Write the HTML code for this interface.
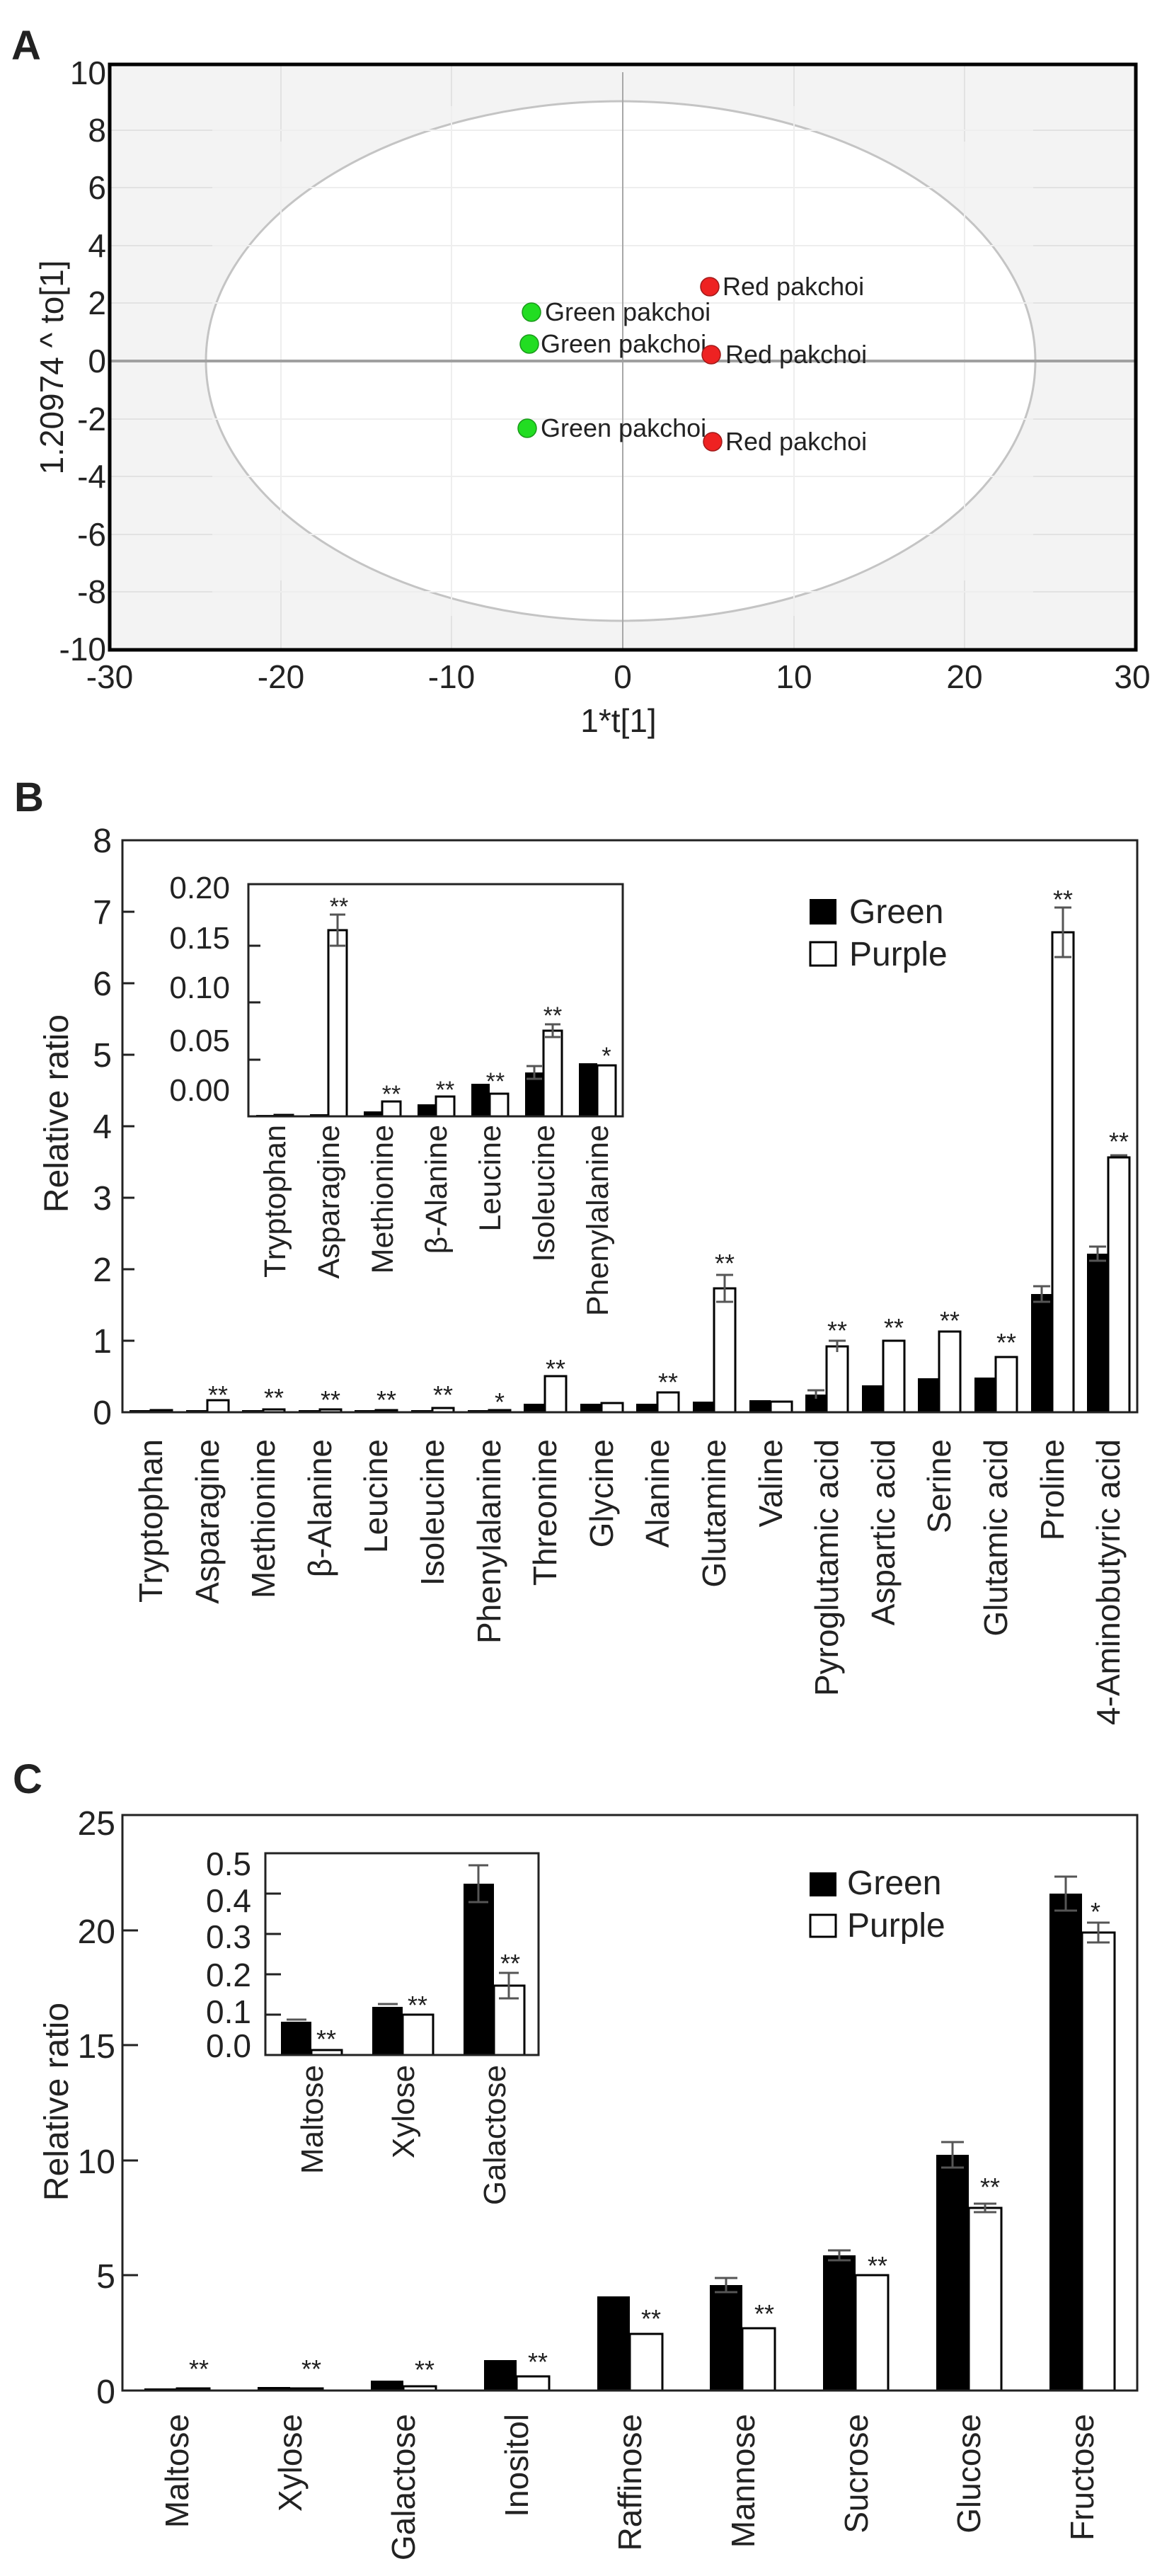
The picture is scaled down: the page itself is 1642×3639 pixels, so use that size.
<!DOCTYPE html>
<html><head><meta charset="utf-8"><style>
html,body{margin:0;padding:0;background:#fff;}
svg{display:block;}
text{font-family:"Liberation Sans",Arial,sans-serif;fill:#222;}
</style></head><body>
<svg width="1642" height="3639" viewBox="0 0 1642 3639" xmlns="http://www.w3.org/2000/svg">
<rect width="1642" height="3639" fill="#fff"/>

<!-- ============ PANEL A ============ -->
<text x="16" y="84" font-size="58" font-weight="bold" fill="#000">A</text>
<rect x="155" y="91" width="1450" height="827" fill="#f3f3f3"/>
<g stroke="#e2e2e2" stroke-width="2">
<line x1="397" y1="91" x2="397" y2="918"/><line x1="638" y1="91" x2="638" y2="918"/>
<line x1="1122" y1="91" x2="1122" y2="918"/><line x1="1363" y1="91" x2="1363" y2="918"/>
<line x1="155" y1="184" x2="1605" y2="184"/><line x1="155" y1="265" x2="1605" y2="265"/>
<line x1="155" y1="347" x2="1605" y2="347"/><line x1="155" y1="428" x2="1605" y2="428"/>
<line x1="155" y1="592" x2="1605" y2="592"/><line x1="155" y1="673" x2="1605" y2="673"/>
<line x1="155" y1="755" x2="1605" y2="755"/><line x1="155" y1="836" x2="1605" y2="836"/>
</g>
<ellipse cx="877" cy="510" rx="586" ry="367" fill="#fff" stroke="#c4c4c4" stroke-width="3"/>
<g stroke="#eeeeee" stroke-width="2">
<line x1="397" y1="200" x2="397" y2="820"/><line x1="638" y1="150" x2="638" y2="870"/>
<line x1="1122" y1="150" x2="1122" y2="870"/><line x1="1363" y1="200" x2="1363" y2="820"/>
<line x1="300" y1="184" x2="1460" y2="184"/><line x1="300" y1="265" x2="1460" y2="265"/>
<line x1="300" y1="347" x2="1460" y2="347"/><line x1="300" y1="428" x2="1460" y2="428"/>
<line x1="300" y1="592" x2="1460" y2="592"/><line x1="300" y1="673" x2="1460" y2="673"/>
<line x1="300" y1="755" x2="1460" y2="755"/><line x1="300" y1="836" x2="1460" y2="836"/>
</g>
<line x1="880" y1="102" x2="880" y2="918" stroke="#a8a8a8" stroke-width="2"/>
<line x1="155" y1="510" x2="1605" y2="510" stroke="#a0a0a0" stroke-width="4"/>
<rect x="155" y="91" width="1450" height="827" fill="none" stroke="#000" stroke-width="5"/>
<g font-size="36" fill="#333">
<circle cx="751" cy="441" r="13" fill="#22dd22" stroke="#1a9a1a" stroke-width="1.5"/><text x="770" y="453">Green pakchoi</text>
<circle cx="748" cy="486" r="13" fill="#22dd22" stroke="#1a9a1a" stroke-width="1.5"/><text x="764" y="498">Green pakchoi</text>
<circle cx="745" cy="605" r="13" fill="#22dd22" stroke="#1a9a1a" stroke-width="1.5"/><text x="764" y="617">Green pakchoi</text>
<circle cx="1003" cy="405" r="13" fill="#ee2222" stroke="#a01a1a" stroke-width="1.5"/><text x="1021" y="417">Red pakchoi</text>
<circle cx="1005" cy="501" r="13" fill="#ee2222" stroke="#a01a1a" stroke-width="1.5"/><text x="1025" y="513">Red pakchoi</text>
<circle cx="1007" cy="624" r="13" fill="#ee2222" stroke="#a01a1a" stroke-width="1.5"/><text x="1025" y="636">Red pakchoi</text>
</g>
<g font-size="46" text-anchor="end" fill="#333">
<text x="150" y="119">10</text><text x="150" y="200">8</text><text x="150" y="281">6</text>
<text x="150" y="363">4</text><text x="150" y="444">2</text><text x="150" y="526">0</text>
<text x="150" y="608">-2</text><text x="150" y="689">-4</text><text x="150" y="771">-6</text>
<text x="150" y="852">-8</text><text x="150" y="933">-10</text>
</g>
<g font-size="46" text-anchor="middle" fill="#333">
<text x="155" y="972">-30</text><text x="397" y="972">-20</text><text x="638" y="972">-10</text>
<text x="880" y="972">0</text><text x="1122" y="972">10</text><text x="1363" y="972">20</text><text x="1600" y="972">30</text>
</g>
<text x="874" y="1034" font-size="46" text-anchor="middle" fill="#333">1*t[1]</text>
<text transform="translate(89,519) rotate(-90)" font-size="46" text-anchor="middle" fill="#333">1.20974 ^ to[1]</text>

<!-- ============ PANEL B ============ -->
<text x="20" y="1146" font-size="58" font-weight="bold" fill="#000">B</text>
<g font-size="48" text-anchor="end" fill="#222">
<text x="158" y="1204">8</text><text x="158" y="1305">7</text><text x="158" y="1406">6</text>
<text x="158" y="1507">5</text><text x="158" y="1608">4</text><text x="158" y="1709">3</text>
<text x="158" y="1810">2</text><text x="158" y="1911">1</text><text x="158" y="2012">0</text>
</g>
<g stroke="#222" stroke-width="3">
<line x1="173" y1="1288" x2="190" y2="1288"/><line x1="173" y1="1389" x2="190" y2="1389"/>
<line x1="173" y1="1490" x2="190" y2="1490"/><line x1="173" y1="1591" x2="190" y2="1591"/>
<line x1="173" y1="1692" x2="190" y2="1692"/><line x1="173" y1="1793" x2="190" y2="1793"/>
<line x1="173" y1="1894" x2="190" y2="1894"/>
</g>
<text transform="translate(96,1573) rotate(-90)" font-size="48" text-anchor="middle" fill="#222">Relative ratio</text>
<!-- bars B -->
<g fill="#000">
<rect x="183" y="1992" width="30" height="3"/>
<rect x="263" y="1992" width="30" height="3"/>
<rect x="342" y="1992" width="30" height="3"/>
<rect x="422" y="1992" width="30" height="3"/>
<rect x="501" y="1992" width="30" height="3"/>
<rect x="581" y="1992" width="30" height="3"/>
<rect x="661" y="1992" width="30" height="3"/>
<rect x="740" y="1983" width="30" height="12"/>
<rect x="820" y="1983" width="30" height="12"/>
<rect x="899" y="1983" width="30" height="12"/>
<rect x="979" y="1980" width="30" height="15"/>
<rect x="1059" y="1978" width="30" height="17"/>
<rect x="1138" y="1970" width="30" height="25"/>
<rect x="1218" y="1957" width="30" height="38"/>
<rect x="1297" y="1947" width="30" height="48"/>
<rect x="1377" y="1946" width="30" height="49"/>
<rect x="1457" y="1828" width="30" height="167"/>
<rect x="1536" y="1771" width="30" height="224"/>
</g>
<g fill="#fff" stroke="#000" stroke-width="3">
<rect x="213" y="1992" width="30" height="3"/>
<rect x="293" y="1978" width="30" height="17"/>
<rect x="372" y="1991" width="30" height="4"/>
<rect x="452" y="1991" width="30" height="4"/>
<rect x="531" y="1992" width="30" height="3"/>
<rect x="611" y="1989" width="30" height="6"/>
<rect x="691" y="1992" width="30" height="3"/>
<rect x="770" y="1944" width="30" height="51"/>
<rect x="850" y="1982" width="30" height="13"/>
<rect x="929" y="1967" width="30" height="28"/>
<rect x="1009" y="1820" width="30" height="175"/>
<rect x="1089" y="1980" width="30" height="15"/>
<rect x="1168" y="1902" width="30" height="93"/>
<rect x="1248" y="1894" width="30" height="101"/>
<rect x="1327" y="1881" width="30" height="114"/>
<rect x="1407" y="1917" width="30" height="78"/>
<rect x="1487" y="1317" width="30" height="678"/>
<rect x="1566" y="1635" width="30" height="360"/>
</g>
<g stroke="#555" stroke-width="3">
<line x1="1024" y1="1801" x2="1024" y2="1839"/><line x1="1012" y1="1801" x2="1036" y2="1801"/><line x1="1012" y1="1839" x2="1036" y2="1839"/>
<line x1="1183" y1="1894" x2="1183" y2="1910"/><line x1="1171" y1="1894" x2="1195" y2="1894"/>
<line x1="1153" y1="1964" x2="1153" y2="1976"/><line x1="1141" y1="1964" x2="1165" y2="1964"/>
<line x1="1472" y1="1817" x2="1472" y2="1839"/><line x1="1460" y1="1817" x2="1484" y2="1817"/><line x1="1460" y1="1839" x2="1484" y2="1839"/>
<line x1="1502" y1="1282" x2="1502" y2="1352"/><line x1="1490" y1="1282" x2="1514" y2="1282"/><line x1="1490" y1="1352" x2="1514" y2="1352"/>
<line x1="1551" y1="1761" x2="1551" y2="1781"/><line x1="1539" y1="1761" x2="1563" y2="1761"/><line x1="1539" y1="1781" x2="1563" y2="1781"/>
<line x1="1569" y1="1632" x2="1593" y2="1632"/>
</g>
<g font-size="36" text-anchor="middle" fill="#333">
<text x="308" y="1983">**</text><text x="387" y="1987">**</text><text x="467" y="1990">**</text>
<text x="546" y="1990">**</text><text x="626" y="1983">**</text><text x="706" y="1993">*</text>
<text x="785" y="1946">**</text><text x="944" y="1965">**</text><text x="1024" y="1797">**</text>
<text x="1183" y="1892">**</text><text x="1263" y="1888">**</text><text x="1342" y="1878">**</text>
<text x="1422" y="1909">**</text><text x="1502" y="1283">**</text><text x="1581" y="1625">**</text>
</g>
<rect x="173" y="1187" width="1434" height="808" fill="none" stroke="#222" stroke-width="3"/>
<!-- legend B -->
<rect x="1144" y="1270" width="38" height="36" fill="#000"/>
<text x="1200" y="1304" font-size="48" fill="#222">Green</text>
<rect x="1145" y="1331" width="36" height="33" fill="#fff" stroke="#000" stroke-width="3"/>
<text x="1200" y="1364" font-size="48" fill="#222">Purple</text>
<!-- x labels B -->
<g font-size="46" text-anchor="end" fill="#222">
<text transform="translate(229,2033) rotate(-90)">Tryptophan</text>
<text transform="translate(309,2033) rotate(-90)">Asparagine</text>
<text transform="translate(388,2033) rotate(-90)">Methionine</text>
<text transform="translate(468,2033) rotate(-90)">β-Alanine</text>
<text transform="translate(547,2033) rotate(-90)">Leucine</text>
<text transform="translate(627,2033) rotate(-90)">Isoleucine</text>
<text transform="translate(707,2033) rotate(-90)">Phenylalanine</text>
<text transform="translate(786,2033) rotate(-90)">Threonine</text>
<text transform="translate(866,2033) rotate(-90)">Glycine</text>
<text transform="translate(945,2033) rotate(-90)">Alanine</text>
<text transform="translate(1025,2033) rotate(-90)">Glutamine</text>
<text transform="translate(1105,2033) rotate(-90)">Valine</text>
<text transform="translate(1184,2033) rotate(-90)">Pyroglutamic acid</text>
<text transform="translate(1264,2033) rotate(-90)">Aspartic acid</text>
<text transform="translate(1343,2033) rotate(-90)">Serine</text>
<text transform="translate(1423,2033) rotate(-90)">Glutamic acid</text>
<text transform="translate(1503,2033) rotate(-90)">Proline</text>
<text transform="translate(1582,2033) rotate(-90)">4-Aminobutyric acid</text>
</g>
<!-- inset B -->
<rect x="351" y="1249" width="529" height="328" fill="#fff"/>
<g font-size="44" text-anchor="end" fill="#222">
<text x="325" y="1269">0.20</text><text x="325" y="1340">0.15</text><text x="325" y="1410">0.10</text>
<text x="325" y="1485">0.05</text><text x="325" y="1555">0.00</text>
</g>
<g stroke="#222" stroke-width="3">
<line x1="351" y1="1336" x2="368" y2="1336"/><line x1="351" y1="1416" x2="368" y2="1416"/><line x1="351" y1="1497" x2="368" y2="1497"/>
</g>
<g fill="#000">
<rect x="362" y="1575" width="26" height="2"/>
<rect x="438" y="1574" width="26" height="3"/>
<rect x="514" y="1570" width="26" height="7"/>
<rect x="590" y="1560" width="26" height="17"/>
<rect x="666" y="1531" width="26" height="46"/>
<rect x="742" y="1515" width="26" height="62"/>
<rect x="818" y="1502" width="26" height="75"/>
</g>
<g fill="#fff" stroke="#000" stroke-width="3">
<rect x="388" y="1575" width="26" height="2"/>
<rect x="464" y="1314" width="26" height="263"/>
<rect x="540" y="1556" width="26" height="21"/>
<rect x="616" y="1549" width="26" height="28"/>
<rect x="692" y="1545" width="26" height="32"/>
<rect x="768" y="1456" width="26" height="121"/>
<rect x="844" y="1505" width="26" height="72"/>
</g>
<g stroke="#555" stroke-width="3">
<line x1="477" y1="1292" x2="477" y2="1336"/><line x1="466" y1="1292" x2="488" y2="1292"/><line x1="466" y1="1336" x2="488" y2="1336"/>
<line x1="755" y1="1506" x2="755" y2="1524"/><line x1="744" y1="1506" x2="766" y2="1506"/><line x1="744" y1="1524" x2="766" y2="1524"/>
<line x1="781" y1="1447" x2="781" y2="1465"/><line x1="770" y1="1447" x2="792" y2="1447"/><line x1="770" y1="1465" x2="792" y2="1465"/>
</g>
<g font-size="34" text-anchor="middle" fill="#333">
<text x="479" y="1292">**</text><text x="553" y="1557">**</text><text x="629" y="1551">**</text>
<text x="700" y="1539">**</text><text x="781" y="1446">**</text><text x="857" y="1503">*</text>
</g>
<rect x="351" y="1249" width="529" height="328" fill="none" stroke="#222" stroke-width="3"/>
<g font-size="43" text-anchor="end" fill="#222">
<text transform="translate(403,1589) rotate(-90)">Tryptophan</text>
<text transform="translate(479,1589) rotate(-90)">Asparagine</text>
<text transform="translate(555,1589) rotate(-90)">Methionine</text>
<text transform="translate(631,1589) rotate(-90)">β-Alanine</text>
<text transform="translate(707,1589) rotate(-90)">Leucine</text>
<text transform="translate(783,1589) rotate(-90)">Isoleucine</text>
<text transform="translate(859,1589) rotate(-90)">Phenylalanine</text>
</g>

<!-- ============ PANEL C ============ -->
<text x="18" y="2533" font-size="58" font-weight="bold" fill="#000">C</text>
<g font-size="48" text-anchor="end" fill="#222">
<text x="163" y="2592">25</text><text x="163" y="2745">20</text><text x="163" y="2907">15</text>
<text x="163" y="3070">10</text><text x="163" y="3232">5</text><text x="163" y="3395">0</text>
</g>
<g stroke="#222" stroke-width="3">
<line x1="173" y1="2727" x2="195" y2="2727"/><line x1="173" y1="2889" x2="195" y2="2889"/>
<line x1="173" y1="3052" x2="195" y2="3052"/><line x1="173" y1="3214" x2="195" y2="3214"/>
</g>
<text transform="translate(96,2969) rotate(-90)" font-size="48" text-anchor="middle" fill="#222">Relative ratio</text>
<g fill="#000">
<rect x="204" y="3374" width="46" height="3"/>
<rect x="364" y="3372" width="46" height="5"/>
<rect x="524" y="3363" width="46" height="14"/>
<rect x="684" y="3334" width="46" height="43"/>
<rect x="844" y="3244" width="46" height="133"/>
<rect x="1003" y="3228" width="46" height="149"/>
<rect x="1163" y="3186" width="46" height="191"/>
<rect x="1323" y="3044" width="46" height="333"/>
<rect x="1483" y="2675" width="46" height="702"/>
</g>
<g fill="#fff" stroke="#000" stroke-width="3">
<rect x="250" y="3374" width="46" height="3"/>
<rect x="410" y="3374" width="46" height="3"/>
<rect x="570" y="3371" width="46" height="6"/>
<rect x="730" y="3357" width="46" height="20"/>
<rect x="890" y="3297" width="46" height="80"/>
<rect x="1049" y="3289" width="46" height="88"/>
<rect x="1209" y="3214" width="46" height="163"/>
<rect x="1369" y="3119" width="46" height="258"/>
<rect x="1529" y="2730" width="46" height="647"/>
</g>
<g stroke="#555" stroke-width="3">
<line x1="1026" y1="3218" x2="1026" y2="3238"/><line x1="1010" y1="3218" x2="1042" y2="3218"/><line x1="1010" y1="3238" x2="1042" y2="3238"/>
<line x1="1186" y1="3179" x2="1186" y2="3193"/><line x1="1170" y1="3179" x2="1202" y2="3179"/><line x1="1170" y1="3193" x2="1202" y2="3193"/>
<line x1="1346" y1="3026" x2="1346" y2="3062"/><line x1="1330" y1="3026" x2="1362" y2="3026"/><line x1="1330" y1="3062" x2="1362" y2="3062"/>
<line x1="1392" y1="3113" x2="1392" y2="3125"/><line x1="1376" y1="3113" x2="1408" y2="3113"/><line x1="1376" y1="3125" x2="1408" y2="3125"/>
<line x1="1506" y1="2651" x2="1506" y2="2699"/><line x1="1490" y1="2651" x2="1522" y2="2651"/><line x1="1490" y1="2699" x2="1522" y2="2699"/>
<line x1="1552" y1="2716" x2="1552" y2="2744"/><line x1="1536" y1="2716" x2="1568" y2="2716"/><line x1="1536" y1="2744" x2="1568" y2="2744"/>
</g>
<g font-size="36" text-anchor="middle" fill="#333">
<text x="281" y="3359">**</text><text x="440" y="3359">**</text><text x="600" y="3360">**</text>
<text x="760" y="3349">**</text><text x="920" y="3288">**</text><text x="1080" y="3281">**</text>
<text x="1240" y="3213">**</text><text x="1399" y="3102">**</text><text x="1548" y="2713">*</text>
</g>
<rect x="173" y="2564" width="1434" height="813" fill="none" stroke="#222" stroke-width="3"/>
<rect x="1144" y="2645" width="38" height="34" fill="#000"/>
<text x="1197" y="2676" font-size="48" fill="#222">Green</text>
<rect x="1145" y="2705" width="36" height="31" fill="#fff" stroke="#000" stroke-width="3"/>
<text x="1197" y="2736" font-size="48" fill="#222">Purple</text>
<g font-size="46" text-anchor="end" fill="#222">
<text transform="translate(266,3410) rotate(-90)">Maltose</text>
<text transform="translate(426,3410) rotate(-90)">Xylose</text>
<text transform="translate(586,3410) rotate(-90)">Galactose</text>
<text transform="translate(746,3410) rotate(-90)">Inositol</text>
<text transform="translate(906,3410) rotate(-90)">Raffinose</text>
<text transform="translate(1066,3410) rotate(-90)">Mannose</text>
<text transform="translate(1226,3410) rotate(-90)">Sucrose</text>
<text transform="translate(1385,3410) rotate(-90)">Glucose</text>
<text transform="translate(1545,3410) rotate(-90)">Fructose</text>
</g>
<!-- inset C -->
<rect x="375" y="2618" width="386" height="285" fill="#fff"/>
<g font-size="46" text-anchor="end" fill="#222">
<text x="355" y="2649">0.5</text><text x="355" y="2701">0.4</text><text x="355" y="2752">0.3</text>
<text x="355" y="2806">0.2</text><text x="355" y="2858">0.1</text><text x="355" y="2906">0.0</text>
</g>
<g stroke="#222" stroke-width="3">
<line x1="375" y1="2675" x2="397" y2="2675"/><line x1="375" y1="2732" x2="397" y2="2732"/>
<line x1="375" y1="2789" x2="397" y2="2789"/><line x1="375" y1="2846" x2="397" y2="2846"/>
</g>
<g fill="#000">
<rect x="397" y="2856" width="43" height="47"/>
<rect x="526" y="2835" width="43" height="68"/>
<rect x="655" y="2661" width="43" height="242"/>
</g>
<g fill="#fff" stroke="#000" stroke-width="3">
<rect x="440" y="2896" width="43" height="7"/>
<rect x="569" y="2846" width="43" height="57"/>
<rect x="698" y="2805" width="43" height="98"/>
</g>
<g stroke="#555" stroke-width="3">
<line x1="405" y1="2853" x2="433" y2="2853"/>
<line x1="534" y1="2831" x2="562" y2="2831"/>
<line x1="676" y1="2635" x2="676" y2="2687"/><line x1="662" y1="2635" x2="690" y2="2635"/><line x1="662" y1="2687" x2="690" y2="2687"/>
<line x1="719" y1="2787" x2="719" y2="2823"/><line x1="705" y1="2787" x2="733" y2="2787"/><line x1="705" y1="2823" x2="733" y2="2823"/>
</g>
<g font-size="36" text-anchor="middle" fill="#333">
<text x="461" y="2893">**</text><text x="590" y="2845">**</text><text x="721" y="2786">**</text>
</g>
<rect x="375" y="2618" width="386" height="285" fill="none" stroke="#222" stroke-width="3"/>
<g font-size="44" text-anchor="end" fill="#222">
<text transform="translate(456,2917) rotate(-90)">Maltose</text>
<text transform="translate(585,2917) rotate(-90)">Xylose</text>
<text transform="translate(714,2917) rotate(-90)">Galactose</text>
</g>
</svg>
</body></html>
